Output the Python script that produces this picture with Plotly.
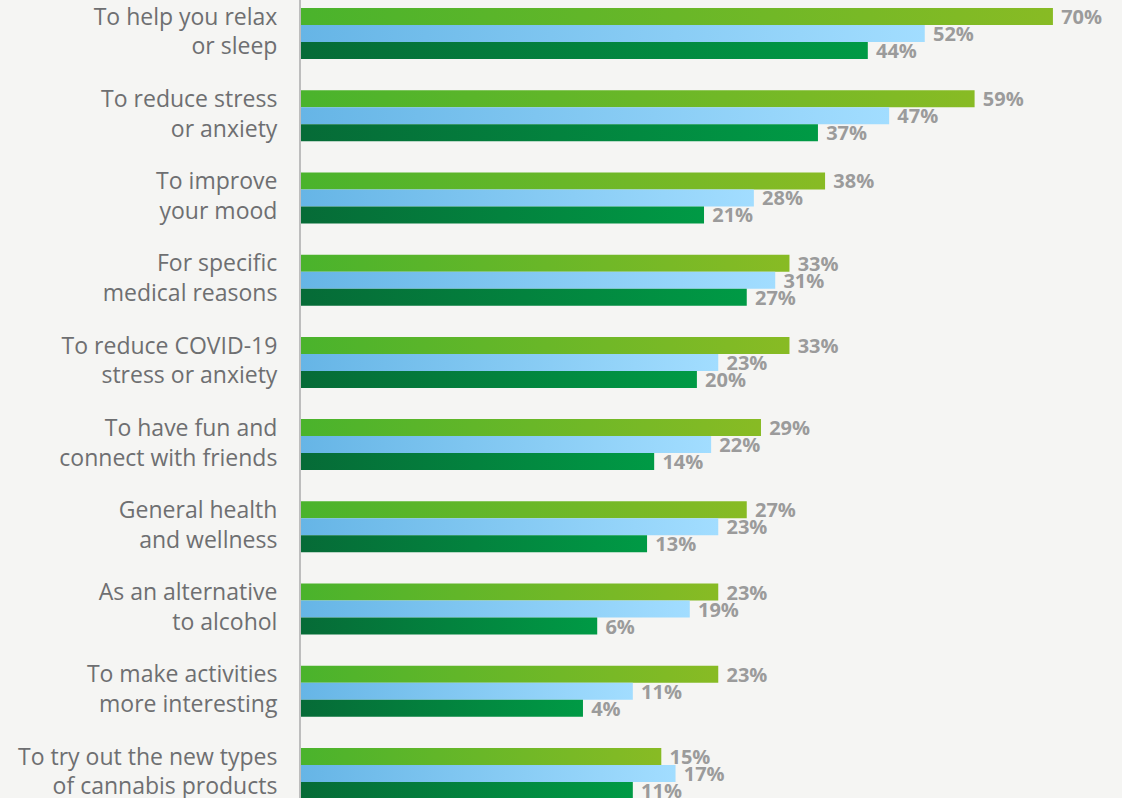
import json
import plotly.graph_objects as go

# Reasons for use, listed top to bottom
categories = [
    "To help you relax<br>or sleep",
    "To reduce stress<br>or anxiety",
    "To improve<br>your mood",
    "For specific<br>medical reasons",
    "To reduce COVID-19<br>stress or anxiety",
    "To have fun and<br>connect with friends",
    "General health<br>and wellness",
    "As an alternative<br>to alcohol",
    "To make activities<br>more interesting",
    "To try out the new types<br>of cannabis products",
]

# Share of respondents (%) for each of the three groups
group_1 = [70, 59, 38, 33, 33, 29, 27, 23, 23, 15]
group_2 = [52, 47, 28, 31, 23, 22, 23, 19, 11, 17]
group_3 = [44, 37, 21, 27, 20, 14, 13, 6, 4, 11]

series_names = ["Group 1", "Group 2", "Group 3"]

# Styling
BG = "#f5f5f3"
SOLID = ["#6ab628", "#83c8f2", "#038140"]
GRADIENTS = [["#4ab32c", "#88bb24"], ["#66b5e6", "#a2ddff"], ["#066b37", "#009a45"]]
AXIS_START = -35.6   # value at the left edge of the plotting area
AXIS_END = 79.7

fig = go.Figure()
for name, vals, color in zip(series_names, [group_1, group_2, group_3], SOLID):
    fig.add_trace(go.Bar(
        y=categories,
        x=[v - AXIS_START for v in vals],
        base=AXIS_START,
        orientation="h",
        name=name,
        marker=dict(color=color, line=dict(width=0)),
        text=["\u00a0" + f"{v}%" for v in vals],
        textposition="outside",
        textangle=0,
        constraintext="none",
        cliponaxis=False,
        textfont=dict(family="Open Sans", size=20, color="#9b9b9b", weight="bold"),
        hoverinfo="skip",
    ))

fig.update_layout(
    width=1122,
    height=798,
    margin=dict(l=301, r=0, t=0, b=0, pad=0, autoexpand=False),
    paper_bgcolor=BG,
    plot_bgcolor=BG,
    barmode="group",
    bargap=0.38,
    bargroupgap=0,
    showlegend=False,
    font=dict(family="Open Sans", color="#6e6f71"),
    xaxis=dict(
        range=[AXIS_START, AXIS_END],
        visible=False,
        showgrid=False,
        zeroline=False,
        automargin=False,
    ),
    yaxis=dict(
        type="category",
        range=[9.298, -0.4074],
        automargin=False,
        showgrid=False,
        zeroline=False,
        showline=True,
        linecolor="#bdbdbd",
        linewidth=2,
        ticks="",
        ticklabelstandoff=17,
        ticklabelshift=2,
        tickfont=dict(family="Open Sans", size=23, color="#6e6f71"),
    ),
)

# Left-to-right gradient fill on every bar of each series
post_js = """
var gd = document.querySelector('.js-plotly-plot');
var svg = gd.querySelector('svg.main-svg');
var NS = 'http://www.w3.org/2000/svg';
var defs = svg.querySelector('defs');
if (!defs) { defs = document.createElementNS(NS, 'defs'); svg.insertBefore(defs, svg.firstChild); }
var grads = %s;
grads.forEach(function (pair, i) {
  var g = document.createElementNS(NS, 'linearGradient');
  g.setAttribute('id', 'barfill' + i);
  g.setAttribute('x1', '0'); g.setAttribute('y1', '0');
  g.setAttribute('x2', '1'); g.setAttribute('y2', '0');
  pair.forEach(function (c, k) {
    var s = document.createElementNS(NS, 'stop');
    s.setAttribute('offset', k === 0 ? '0' : '1');
    s.setAttribute('stop-color', c);
    g.appendChild(s);
  });
  defs.appendChild(g);
});
gd.querySelectorAll('.barlayer .trace').forEach(function (tr, i) {
  tr.querySelectorAll('.point path').forEach(function (p) {
    p.style.fill = 'url(#barfill' + i + ')';
  });
});
""" % json.dumps(GRADIENTS)

fig.write_html("out.html", post_script=post_js)
